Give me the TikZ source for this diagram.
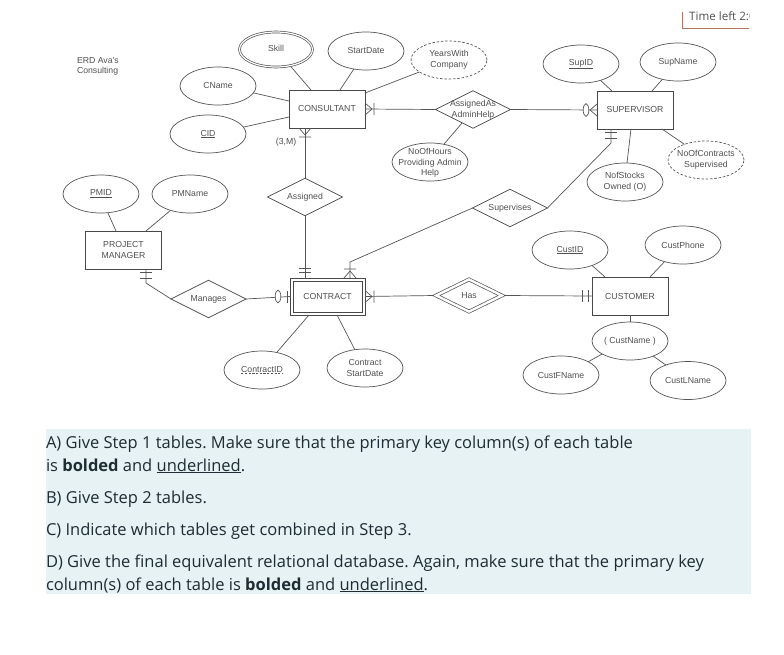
\documentclass[tikz,border=0pt]{standalone}
\usepackage{fontspec}
\usetikzlibrary{shapes.geometric}
\setmainfont{Liberation Sans}
\newfontfamily\qtfont{Open Sans}
\definecolor{ink}{HTML}{555555}
\definecolor{txt}{HTML}{505050}
\definecolor{qbg}{HTML}{E6F2F4}
\definecolor{qtxt}{HTML}{1E2C33}
\definecolor{tmr}{HTML}{B87565}
\tikzset{
  x=1pt,y=-1pt,
  conn/.style={draw=ink,line width=.7pt},
  lbl/.style={font=\fontsize{8.7}{10.7}\selectfont,text=txt,align=center,inner sep=0pt,outer sep=0pt},
  attr/.style={ellipse,draw=ink,line width=.7pt,minimum width=76pt,minimum height=38pt,inner sep=0pt,outer sep=0pt},
  dattr/.style={attr,dashed,dash pattern=on 2.5pt off 1.8pt},
  entity/.style={rectangle,draw=ink!85!black,line width=1pt,minimum width=76pt,minimum height=38pt,inner sep=0pt,outer sep=0pt,lbl},
  rel/.style={diamond,draw=ink,line width=.7pt,minimum width=75pt,minimum height=37.5pt,inner sep=0pt,outer sep=0pt},
  qline/.style={anchor=base west,inner sep=0pt,outer sep=0pt,text=qtxt,font=\qtfont\fontsize{16.5}{20}\selectfont\frenchspacing},
  pics/manyone/.style={code={\draw[conn] (7,0)--(0,-6) (7,0)--(0,6) (9,-6)--(9,6);}},
  pics/twobar/.style 2 args={code={\draw[conn] (#1,-6)--(#1,6) (#2,-6)--(#2,6);}},
  pics/zeromany/.style={code={\draw[conn] (7,0)--(0,-6) (7,0)--(0,6); \draw[conn,fill=white] (11,0) ellipse (2.8 and 6.3);}},
  pics/onezero/.style={code={\draw[conn] (3,-6)--(3,6); \draw[conn,fill=white] (12,0) ellipse (2.8 and 6.3);}},
}
\begin{document}
\begin{tikzpicture}
\useasboundingbox (0,0) rectangle (784,654);
% timer
\begin{scope}
\clip (670,0) rectangle (749,40);
\node[anchor=base west,inner sep=0pt,text=txt,font=\qtfont\fontsize{11.6}{13}\selectfont] (timer) at (689,20) {Time left 2:0};
\draw[tmr,line width=.8pt] (682,12) -- (682,28) -- (749,28);
\end{scope}
% title
\node[lbl,anchor=west,align=left] (title) at (77,66.5) {ERD Ava's\\Consulting};
% entities
\node[entity] (consultant) at (327,109) {CONSULTANT};
\node[entity] (supervisor) at (635,110) {SUPERVISOR};
\node[entity,align=center] (pm) at (123.5,250) {PROJECT\\MANAGER};
\node[entity,minimum width=75pt,minimum height=37pt] (contract) at (327.5,296.5) {};
\node[entity,minimum width=69pt,minimum height=31pt] (contractin) at (contract.center) {CONTRACT};
\node[entity] (customer) at (630,296) {CUSTOMER};
% relationships
\node[rel,label={[lbl]center:{AssignedAs\\AdminHelp}}] (assignedas) at (473,109.5) {};
\node[rel,label={[lbl]center:Assigned}] (assigned) at (305,197) {};
\node[rel,label={[lbl]center:Supervises}] (supervises) at (510,208) {};
\node[rel,label={[lbl]center:Manages}] (manages) at (208.5,299) {};
\node[rel,double,double distance=2.4pt,minimum width=67pt,minimum height=33.5pt,outer sep=1.6pt,label={[lbl]center:Has}] (has) at (469,295.5) {};
% attributes
\node[attr,double,double distance=1.2pt,minimum width=73pt,minimum height=35pt,outer sep=1pt,label={[lbl,yshift=1pt]center:Skill}] (skill) at (276,49.5) {};
\node[attr,label={[lbl]center:StartDate}] (startdate) at (366,51) {};
\node[dattr,label={[lbl]center:{YearsWith\\Company}}] (years) at (449,60) {};
\node[attr,label={[lbl]center:CName}] (cname) at (218,86) {};
\node[attr,label={[lbl]center:\underline{CID}}] (cid) at (208,134) {};
\node[attr,label={[lbl,yshift=-1pt]center:{NoOfHours\\Providing Admin\\Help}}] (hours) at (430,162) {};
\node[attr,label={[lbl]center:\underline{SupID}}] (supid) at (581,64) {};
\node[attr,label={[lbl]center:SupName}] (supname) at (678,62) {};
\node[dattr,label={[lbl]center:{NoOfContracts\\Supervised}}] (nocontracts) at (706,160) {};
\node[attr,label={[lbl]center:{NofStocks\\Owned (O)}}] (stocks) at (625,182) {};
\node[attr,label={[lbl]center:\underline{PMID}}] (pmid) at (101,194) {};
\node[attr,label={[lbl]center:PMName}] (pmname) at (190,194) {};
\node[attr,label={[lbl,name=cidtext,yshift=1pt]center:ContractID}] (contractid) at (262,370) {};
\draw[conn,dash pattern=on 2.2pt off 1.5pt] ([yshift=-1.2pt]cidtext.south west) -- ([yshift=-1.2pt]cidtext.south east);
\node[attr,label={[lbl]center:{Contract\\StartDate}}] (cstart) at (365,368) {};
\node[attr,label={[lbl]center:\underline{CustID}}] (custid) at (570,250) {};
\node[attr,label={[lbl]center:CustPhone}] (custphone) at (683,245) {};
\node[attr,label={[lbl]center:( CustName )}] (custname) at (630,341) {};
\node[attr,label={[lbl]center:CustFName}] (custfname) at (561,375) {};
\node[attr,label={[lbl]center:CustLName}] (custlname) at (688,380.5) {};
\node[lbl] (card) at (286,142) {(3,M)};
% elbows
\coordinate (elbowsup) at (350,262);
\coordinate (elbowsv) at (611,143);
\coordinate (elbowpm) at (146,283);
% attribute connectors
\draw[conn] (skill.-49) -- ([xshift=-16pt]consultant.north);
\draw[conn] (startdate.-124) -- ([xshift=13pt]consultant.north);
\draw[conn] (years.-158) -- ([yshift=-3pt]consultant.north east);
\draw[conn] (cname.-11) -- ([yshift=8pt]consultant.west);
\draw[conn] (cid.11) -- ([yshift=-8pt]consultant.west);
\draw[conn] (assignedas.-129) -- (hours.52);
\draw[conn] (supid.-40) -- ([xshift=-23pt]supervisor.north);
\draw[conn] (supname.-132) -- ([xshift=17pt]supervisor.north);
\draw[conn] (nocontracts.144) -- ([xshift=27pt]supervisor.south);
\draw[conn] (stocks.84) -- ([xshift=-4pt]supervisor.south);
\draw[conn] (pmid.-70) -- ([xshift=-7.5pt]pm.north);
\draw[conn] (pmname.-140) -- ([xshift=22.5pt]pm.north);
\draw[conn] (contractid.50) -- ([xshift=-18.5pt]contract.south);
\draw[conn] (cstart.119) -- ([xshift=9.5pt]contract.south);
\draw[conn] (custid.-35.5) -- ([xshift=-25pt]customer.north);
\draw[conn] (custphone.-138) -- ([xshift=20pt]customer.north);
\draw[conn] (customer.south) -- (custname.north);
\draw[conn] (custname.-155) -- (custfname.26);
\draw[conn] (custname.-33) -- (custlname.145);
% relationship connectors
\draw[conn] (consultant.east) -- (assignedas.west);
\pic at (consultant.east) {manyone};
\draw[conn] (assignedas.east) -- (supervisor.west);
\pic[rotate=180] at (supervisor.west) {zeromany};
\draw[conn] ([xshift=-22pt]consultant.south) -- (assigned.north);
\pic[rotate=-90] at ([xshift=-22pt]consultant.south) {manyone};
\draw[conn] (assigned.south) -- ([xshift=-22.5pt]contract.north);
\pic[rotate=90] at ([xshift=-22.5pt]contract.north) {twobar={6}{10}};
\draw[conn] (supervises.west) -- (elbowsup) -- ([xshift=22.5pt]contract.north);
\pic[rotate=90] at ([xshift=22.5pt]contract.north) {manyone};
\draw[conn] (supervises.east) -- (elbowsv) -- ([xshift=-24pt]supervisor.south);
\pic[rotate=-90] at ([xshift=-24pt]supervisor.south) {twobar={3}{9}};
\draw[conn] ([xshift=22.5pt]pm.south) -- (elbowpm) -- (manages.west);
\pic[rotate=-90] at ([xshift=22.5pt]pm.south) {twobar={3}{9}};
\draw[conn] (manages.east) -- (contract.west);
\pic[rotate=180] at (contract.west) {onezero};
\draw[conn] (contract.east) -- (has.west);
\pic at (contract.east) {manyone};
\draw[conn] (has.east) -- (customer.west);
\pic[rotate=180] at (customer.west) {twobar={4}{10}};
% question block
\fill[qbg] (46,429) rectangle (751,594);
\node[qline] (qa) at (46,448) {A) Give Step 1 tables. Make sure that the primary key column(s) of each table};
\node[qline] (qb) at (46,471) {is \textbf{bolded} and \underline{underlined}.};
\node[qline] (qc) at (46,503) {B) Give Step 2 tables.};
\node[qline] (qd) at (46,535) {C) Indicate which tables get combined in Step 3.};
\node[qline] (qe) at (46,567) {D) Give the final equivalent relational database. Again, make sure that the primary key};
\node[qline] (qf) at (46,590) {column(s) of each table is \textbf{bolded} and \underline{underlined}.};
\end{tikzpicture}
\end{document}
